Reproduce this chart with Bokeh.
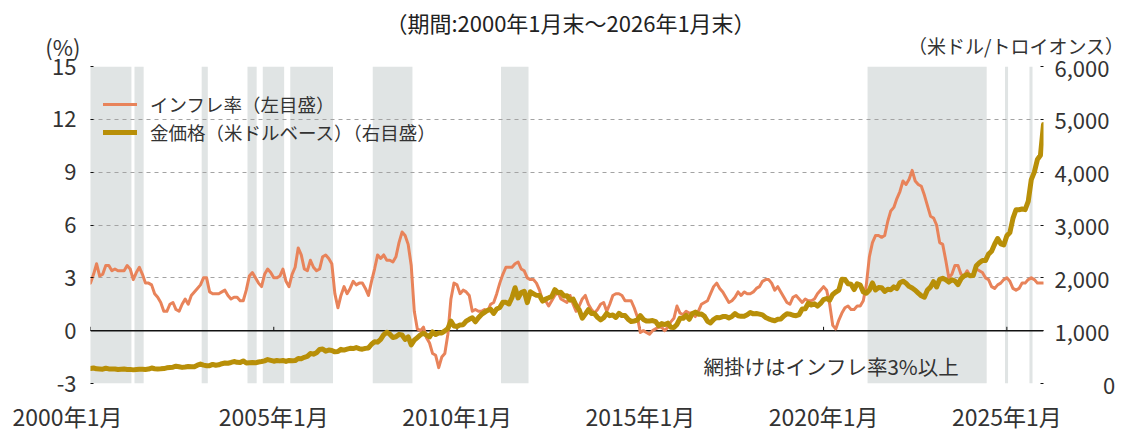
import numpy as np
from bokeh.plotting import figure
from bokeh.layouts import column
from bokeh.models import (Range1d, LinearAxis, FixedTicker, Span, Label,
                          Legend, LegendItem)
from bokeh.embed import file_html
from bokeh.resources import INLINE
from bokeh.core.properties import value

FONT = "Noto Sans CJK JP"
TXT = "#333333"

# ---- data: monthly, 2000-01 .. 2026-01 ----
inflation = [
    2.7, 3.2, 3.8, 3.1, 3.2, 3.7, 3.7, 3.4, 3.5, 3.4, 3.4, 3.4,   # 2000
    3.7, 3.5, 2.9, 3.3, 3.6, 3.2, 2.7, 2.7, 2.6, 2.1, 1.9, 1.6,   # 2001
    1.1, 1.1, 1.5, 1.6, 1.2, 1.1, 1.5, 1.8, 1.5, 2.0, 2.2, 2.4,   # 2002
    2.6, 3.0, 3.0, 2.2, 2.1, 2.1, 2.1, 2.2, 2.3, 2.0, 1.8, 1.9,   # 2003
    1.9, 1.7, 1.7, 2.3, 3.1, 3.3, 3.0, 2.7, 2.5, 3.2, 3.5, 3.3,   # 2004
    3.0, 3.0, 3.1, 3.5, 2.8, 2.5, 3.2, 3.6, 4.7, 4.3, 3.5, 3.4,   # 2005
    4.0, 3.6, 3.4, 3.5, 4.2, 4.3, 4.1, 3.8, 2.1, 1.3, 2.0, 2.5,   # 2006
    2.1, 2.4, 2.8, 2.6, 2.7, 2.7, 2.4, 2.0, 2.8, 3.5, 4.3, 4.1,   # 2007
    4.3, 4.0, 4.0, 3.9, 4.2, 5.0, 5.6, 5.4, 4.9, 3.7, 1.1, 0.1,   # 2008
    0.0, 0.2, -0.4, -0.7, -1.3, -1.4, -2.1, -1.5, -1.3, -0.2, 1.8, 2.7,  # 2009
    2.6, 2.1, 2.3, 2.2, 2.0, 1.1, 1.2, 1.1, 1.1, 1.2, 1.1, 1.5,   # 2010
    1.6, 2.1, 2.7, 3.2, 3.6, 3.6, 3.6, 3.8, 3.9, 3.5, 3.4, 3.0,   # 2011
    2.9, 2.9, 2.7, 2.3, 1.7, 1.7, 1.4, 1.7, 2.0, 2.2, 1.8, 1.7,   # 2012
    1.6, 2.0, 1.5, 1.1, 1.4, 1.8, 2.0, 1.5, 1.2, 1.0, 1.2, 1.5,   # 2013
    1.6, 1.1, 1.5, 2.0, 2.1, 2.1, 2.0, 1.7, 1.7, 1.7, 1.3, 0.8,   # 2014
    -0.1, 0.0, -0.1, -0.2, 0.0, 0.1, 0.2, 0.2, 0.0, 0.2, 0.5, 0.7,  # 2015
    1.4, 1.0, 0.9, 1.1, 1.0, 1.0, 0.8, 1.1, 1.5, 1.6, 1.7, 2.1,   # 2016
    2.5, 2.7, 2.4, 2.2, 1.9, 1.6, 1.7, 1.9, 2.2, 2.0, 2.2, 2.1,   # 2017
    2.1, 2.2, 2.4, 2.5, 2.8, 2.9, 2.9, 2.7, 2.3, 2.5, 2.2, 1.9,   # 2018
    1.6, 1.5, 1.9, 2.0, 1.8, 1.6, 1.8, 1.7, 1.7, 1.8, 2.1, 2.3,   # 2019
    2.5, 2.3, 1.5, 0.3, 0.1, 0.6, 1.0, 1.3, 1.4, 1.2, 1.2, 1.4,   # 2020
    1.4, 1.7, 2.6, 4.2, 5.0, 5.4, 5.4, 5.3, 5.4, 6.2, 6.8, 7.0,   # 2021
    7.5, 7.9, 8.5, 8.3, 8.6, 9.1, 8.5, 8.3, 8.2, 7.7, 7.1, 6.5,   # 2022
    6.4, 6.0, 5.0, 4.9, 4.0, 3.0, 3.2, 3.7, 3.7, 3.2, 3.1, 3.4,   # 2023
    3.1, 3.2, 3.5, 3.4, 3.3, 3.0, 2.9, 2.5, 2.4, 2.6, 2.7, 2.9,   # 2024
    3.0, 2.8, 2.4, 2.3, 2.4, 2.7, 2.7, 2.9, 3.0, 2.9, 2.7, 2.7,   # 2025
    2.7,                                                          # 2026
]

gold = [
    283, 293, 277, 274, 272, 289, 276, 274, 273, 264, 270, 273,
    265, 267, 258, 264, 268, 271, 266, 273, 293, 279, 275, 277,
    282, 297, 302, 308, 327, 318, 305, 312, 323, 316, 318, 347,
    368, 348, 336, 338, 361, 346, 354, 375, 388, 384, 398, 416,
    400, 396, 427, 388, 393, 396, 391, 407, 416, 428, 453, 438,
    422, 435, 428, 435, 418, 437, 429, 433, 473, 470, 496, 513,
    568, 556, 583, 644, 653, 613, 633, 624, 599, 604, 646, 632,
    650, 665, 662, 679, 659, 650, 665, 673, 743, 789, 783, 834,
    923, 971, 933, 871, 885, 930, 918, 834, 884, 730, 819, 869,
    919, 952, 916, 884, 975, 926, 955, 955, 996, 1040, 1182, 1087,
    1078, 1109, 1113, 1180, 1215, 1244, 1169, 1246, 1307, 1346, 1386, 1405,
    1327, 1411, 1439, 1536, 1536, 1505, 1628, 1813, 1620, 1722, 1746, 1531,
    1737, 1697, 1668, 1664, 1560, 1598, 1622, 1648, 1776, 1720, 1726, 1657,
    1660, 1578, 1598, 1476, 1393, 1235, 1313, 1396, 1326, 1323, 1253, 1205,
    1244, 1327, 1284, 1296, 1250, 1327, 1285, 1286, 1217, 1172, 1183, 1199,
    1284, 1213, 1183, 1184, 1191, 1172, 1095, 1135, 1115, 1142, 1065, 1060,
    1118, 1234, 1233, 1290, 1215, 1321, 1351, 1309, 1316, 1272, 1178, 1146,
    1211, 1249, 1245, 1267, 1268, 1242, 1269, 1322, 1283, 1271, 1275, 1303,
    1345, 1318, 1325, 1313, 1299, 1250, 1224, 1202, 1187, 1215, 1222, 1279,
    1321, 1313, 1292, 1284, 1305, 1409, 1414, 1520, 1485, 1511, 1464, 1515,
    1589, 1609, 1577, 1686, 1730, 1768, 1975, 1968, 1887, 1879, 1777, 1888,
    1863, 1734, 1708, 1769, 1903, 1770, 1815, 1814, 1743, 1783, 1775, 1829,
    1797, 1909, 1937, 1897, 1838, 1807, 1766, 1711, 1661, 1634, 1769, 1824,
    1928, 1827, 1969, 1990, 1962, 1919, 1965, 1940, 1871, 1983, 2036, 2063,
    2040, 2044, 2230, 2286, 2327, 2327, 2448, 2503, 2635, 2744, 2643, 2624,
    2798, 2858, 3124, 3289, 3289, 3303, 3290, 3448, 3858, 4000, 4239, 4320,
    4900,
]

# periods shaded (inflation 3% or more): first and last month
shade_start = ["2000-01", "2001-04", "2003-02", "2004-05", "2004-10", "2005-07",
               "2007-10", "2011-04", "2021-04", "2025-01", "2025-09"]
shade_end = ["2001-02", "2001-06", "2003-03", "2004-07", "2005-04", "2006-08",
             "2008-10", "2011-12", "2024-06", "2025-01", "2025-09"]

x_tick_months = [0, 60, 120, 180, 240, 300]
x_tick_labels = ["2000年1月\u2003\u2003", "2005年1月", "2010年1月", "2015年1月", "2020年1月", "2025年1月"]
left_ticks = [-3, 0, 3, 6, 9, 12, 15]
left_tick_labels = ["-3", "0", "3", "6", "9", "12", "15"]
right_ticks = [0, 1000, 2000, 3000, 4000, 5000, 6000]
right_tick_labels = ["\u3000\u3000\u20090", "1,000", "2,000", "3,000", "4,000", "5,000", "6,000"]

TITLE = "（期間:2000年1月末～2026年1月末）"
UNIT_L = "(%)"
UNIT_R = "（米ドル/トロイオンス）"
NOTE = "網掛けはインフレ率3%以上"


def month_index(s):
    y, m = s.split("-")
    return (int(y) - 2000) * 12 + int(m) - 1


months = np.arange(len(inflation))
n_last = len(inflation) - 1

INFL_C = "#E8835A"
GOLD_C = "#B88F08"
SHADE_C = "#E0E4E4"

W_LEFT, W_FRAME, W_RIGHT = 90, 953, 78
TOTAL_W = W_LEFT + W_FRAME + W_RIGHT
HEAD_W = 1125
FRAME_TOP = 66
HEAD_H = 66
MAIN_TOP = 22   # main figure's top border; overlaps the header by this much

# ---------------- header (title and units) ----------------
h = figure(width=HEAD_W, height=HEAD_H, x_range=Range1d(0, HEAD_W), y_range=Range1d(HEAD_H, 0),
           output_backend="svg", toolbar_location=None, min_border=0, title=None)
h.frame_align = False
h.axis.visible = False
h.grid.visible = False
h.outline_line_color = None
h.text(x=[570], y=[21], text=[TITLE], text_align="center", text_baseline="middle",
       text_font=value(FONT), text_font_size="22px", text_color="#222222")
h.text(x=[80], y=[45], text=[UNIT_L], text_align="right", text_baseline="middle",
       text_font=value(FONT), text_font_size="22px", text_color=TXT)
h.text(x=[1124], y=[45], text=[UNIT_R], text_align="right", text_baseline="middle",
       text_font=value(FONT), text_font_size="19px", text_color=TXT)

# ---------------- main chart ----------------
p = figure(frame_width=W_FRAME, frame_height=317,
           x_range=Range1d(0, n_last), y_range=Range1d(left_ticks[0], left_ticks[-1]),
           output_backend="svg", toolbar_location=None,
           min_border_left=W_LEFT, min_border_right=W_RIGHT, min_border_top=MAIN_TOP,
           min_border_bottom=0)
p.frame_align = False
p.margin = (FRAME_TOP - HEAD_H - MAIN_TOP, 0, 0, 0)
p.border_fill_color = None
p.background_fill_color = "white"
p.extra_y_ranges = {"gold": Range1d(right_ticks[0], right_ticks[-1])}
p.outline_line_color = None

# shaded periods
sh_left = [month_index(s) - 0.6 for s in shade_start]
sh_right = [month_index(e) + 0.4 for e in shade_end]
q = p.quad(left=sh_left, right=sh_right, bottom=left_ticks[0], top=left_ticks[-1],
           fill_color=SHADE_C, line_color=None)
q.level = "image"

# grid
p.xgrid.visible = False
p.ygrid.ticker = FixedTicker(ticks=left_ticks)
p.ygrid.grid_line_color = "#A3A3A3"
p.ygrid.grid_line_dash = "4 4"
p.ygrid.grid_line_width = 1

zero = Span(location=0, dimension="width", line_color="#111111", line_width=1.5, level="underlay")
p.add_layout(zero)

# small ticks on the zero line
p.segment(x0=x_tick_months, x1=x_tick_months, y0=[0] * len(x_tick_months),
          y1=[0.22] * len(x_tick_months), line_color="#111111", line_width=1)

# lines
l1 = p.line(months, inflation, line_color=INFL_C, line_width=3, line_join="round", line_cap="round")
l2 = p.line(months, gold, line_color=GOLD_C, line_width=5, line_join="round", line_cap="round",
            y_range_name="gold")

# x axis
xa = p.xaxis[0]
xa.ticker = FixedTicker(ticks=x_tick_months)
xa.major_label_overrides = dict(zip(x_tick_months, x_tick_labels))
xa.axis_line_color = None
xa.major_tick_line_color = None
xa.minor_tick_line_color = None
xa.major_tick_out = 0
xa.major_tick_in = 0
xa.major_label_standoff = 15
xa.major_label_text_font = FONT
xa.major_label_text_font_size = "23px"
xa.major_label_text_color = TXT

# left axis
ya = p.yaxis[0]
ya.ticker = FixedTicker(ticks=left_ticks)
ya.major_label_overrides = dict(zip(left_ticks, left_tick_labels))
ya.axis_line_color = None
ya.major_tick_in = 3
ya.major_tick_out = 0
ya.major_tick_line_color = "#111111"
ya.minor_tick_line_color = None
ya.major_label_standoff = 14
ya.major_label_text_font = FONT
ya.major_label_text_font_size = "22px"
ya.major_label_text_color = TXT

# right axis
ra = LinearAxis(y_range_name="gold", ticker=FixedTicker(ticks=right_ticks))
ra.major_label_overrides = dict(zip(right_ticks, right_tick_labels))
ra.axis_line_color = None
ra.major_tick_in = 3
ra.major_tick_out = 0
ra.major_tick_line_color = "#111111"
ra.minor_tick_line_color = None
ra.major_label_standoff = 11
ra.major_label_text_font = FONT
ra.major_label_text_font_size = "22px"
ra.major_label_text_color = TXT
p.add_layout(ra, "right")

# note
p.add_layout(Label(x=200.7, y=left_ticks[0], y_offset=18, text=NOTE,
                   text_align="left", text_baseline="middle", text_font=FONT,
                   text_font_size="20.5px", text_color=TXT))

# legend
legend = Legend(items=[LegendItem(label="インフレ率（左目盛）", renderers=[l1]),
                       LegendItem(label="金価格（米ドルベース）（右目盛）", renderers=[l2])],
                location=(13, 238), border_line_color=None, background_fill_alpha=0,
                label_text_font=FONT, label_text_font_size="18.5px", label_text_color=TXT,
                glyph_width=34, glyph_height=20, label_height=20, spacing=2,
                padding=0, margin=0, label_standoff=13)
p.add_layout(legend)

layout = column(h, p, spacing=0)
open("out.html", "w").write(file_html(layout, INLINE))
